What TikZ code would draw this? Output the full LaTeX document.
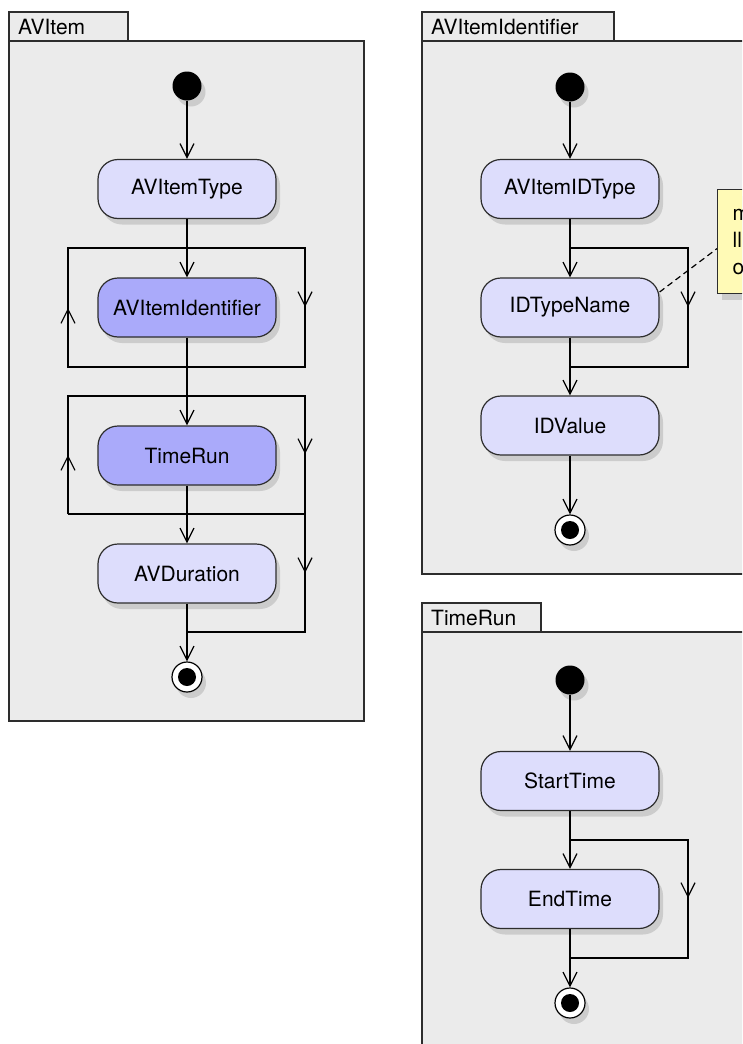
\documentclass[tikz,border=0pt]{standalone}
\usepackage{fontspec}
\setmainfont{TeX Gyre Heros}
\usetikzlibrary{arrows.meta,shadows,calc}

\definecolor{framefill}{RGB}{235,235,235}
\definecolor{actfill}{RGB}{221,221,252}
\definecolor{actdark}{RGB}{170,170,250}
\definecolor{notefill}{RGB}{255,250,182}
\definecolor{lineclr}{RGB}{45,45,45}

\tikzset{
  frame/.style={draw=lineclr, line width=1.4pt, fill=framefill},
  tablabel/.style={anchor=base west, inner sep=0pt, font=\fontsize{21}{25}\selectfont},
  softshadow/.style={general shadow={fill=black, opacity=0.13, shadow xshift=4pt, shadow yshift=-6pt}},
  act/.style={draw=lineclr, line width=1.2pt, fill=actfill, rounded corners=20pt,
    minimum width=178pt, minimum height=59pt, inner sep=0pt,
    font=\fontsize{21}{25}\selectfont, softshadow},
  actd/.style={act, fill=actdark},
  initnode/.style={circle, fill=black, minimum size=29pt, inner sep=0pt, softshadow},
  finnode/.style={circle, draw=black, line width=1.2pt, fill=white, minimum size=30pt, inner sep=0pt, softshadow},
  flow/.style={draw=black, line width=1.2pt},
  arr/.style={flow, -{Straight Barb[length=14pt, width=14pt, line width=1.2pt]}},
  note/.style={draw=lineclr, line width=1.2pt, fill=notefill, anchor=north west,
    minimum width=120pt, minimum height=104pt, text width=90pt, align=left, inner xsep=12pt,
    font=\fontsize{21}{27}\selectfont, softshadow},
}

\begin{document}
\begin{tikzpicture}[x=1pt,y=-1pt]
\useasboundingbox (0,0) rectangle (742,1044);
\clip (0,0) rectangle (742,1044);

% ---------------- Frame 1: AVItem ----------------
\draw[frame] (9,12) rectangle (128,41);
\draw[frame] (9,41) rectangle (364,721);
\node[tablabel] (t1) at (18,34) {AVItem};

\node[initnode] (i1) at (187,86) {};
\node[act]  (a1) at (187,189) {AVItemType};
\node[actd] (a2) at (187,307.5) {AVItemIdentifier};
\node[actd] (a3) at (187,455.5) {TimeRun};
\node[act]  (a4) at (187,573.5) {AVDuration};
\node[finnode] (f1) at (187,677) {};
\fill (f1) circle (9pt);

% loop 1
\coordinate (l1tl) at (68,248);  \coordinate (l1tr) at (305,248);
\coordinate (l1bl) at (68,367);  \coordinate (l1br) at (305,367);
\draw[flow] (l1bl) -- (l1tl) -- (l1tr) -- (l1br) -- cycle;
\draw[arr] (l1bl) -- (68,308);
\draw[arr] (l1tr) -- (305,307);

% loop 2
\coordinate (l2tl) at (68,396);  \coordinate (l2tr) at (305,396);
\coordinate (l2bl) at (68,514);  \coordinate (l2br) at (305,514);
\coordinate (l2end) at (305,632); \coordinate (l2join) at (187,632);
\draw[flow] (l2bl) -- (l2tl) -- (l2tr) -- (l2end) -- (l2join);
\draw[flow] (l2bl) -- (l2br);
\draw[arr] (l2bl) -- (68,455);
\draw[arr] (l2tr) -- (305,454);
\draw[arr] (l2br) -- (305,573);

% main flow
\draw[arr] (i1) -- (a1);
\draw[arr] (a1) -- (a2);
\draw[arr] (a2) -- (a3);
\draw[arr] (a3) -- (a4);
\draw[arr] (a4) -- (f1);

% ---------------- Frame 2: AVItemIdentifier ----------------
\draw[frame] (422,12) rectangle (614,41);
\draw[frame] (422,41) rectangle (800,574);
\node[tablabel] (t2) at (431,34) {AVItemIdentifier};

\node[initnode] (i2) at (570,87) {};
\node[act] (b1) at (570,189) {AVItemIDType};
\node[act] (b2) at (570,307.5) {IDTypeName};
\node[act] (b3) at (570,425.5) {IDValue};
\node[finnode] (f2) at (570,530) {};
\fill (f2) circle (9pt);

\coordinate (m1t) at (570,248); \coordinate (m1tr) at (688,248);
\coordinate (m1b) at (570,367); \coordinate (m1br) at (688,367);
\draw[flow] (m1t) -- (m1tr) -- (m1br) -- (m1b);
\draw[arr] (m1tr) -- (688,307);

\draw[arr] (i2) -- (b1);
\draw[arr] (b1) -- (b2);
\draw[arr] (b2) -- (b3);
\draw[arr] (b3) -- (f2);

\node[note] (n1) at (717,189) {m\\ll\\o};
\draw[flow, dash pattern=on 6pt off 4pt] ($(b2.east)+(0,-15.5)$) -- ($(n1.west)+(0,7)$);

% ---------------- Frame 3: TimeRun ----------------
\draw[frame] (422,603) rectangle (541,632);
\draw[frame] (422,632) rectangle (800,1100);
\node[tablabel] (t3) at (431,625) {TimeRun};

\node[initnode] (i3) at (570,680) {};
\node[act] (c1) at (570,781) {StartTime};
\node[act] (c2) at (570,899) {EndTime};
\node[finnode] (f3) at (570,1003) {};
\fill (f3) circle (9pt);

\coordinate (k1t) at (570,840); \coordinate (k1tr) at (688,840);
\coordinate (k1b) at (570,958); \coordinate (k1br) at (688,958);
\draw[flow] (k1t) -- (k1tr) -- (k1br) -- (k1b);
\draw[arr] (k1tr) -- (688,898);

\draw[arr] (i3) -- (c1);
\draw[arr] (c1) -- (c2);
\draw[arr] (c2) -- (f3);
\end{tikzpicture}
\end{document}
